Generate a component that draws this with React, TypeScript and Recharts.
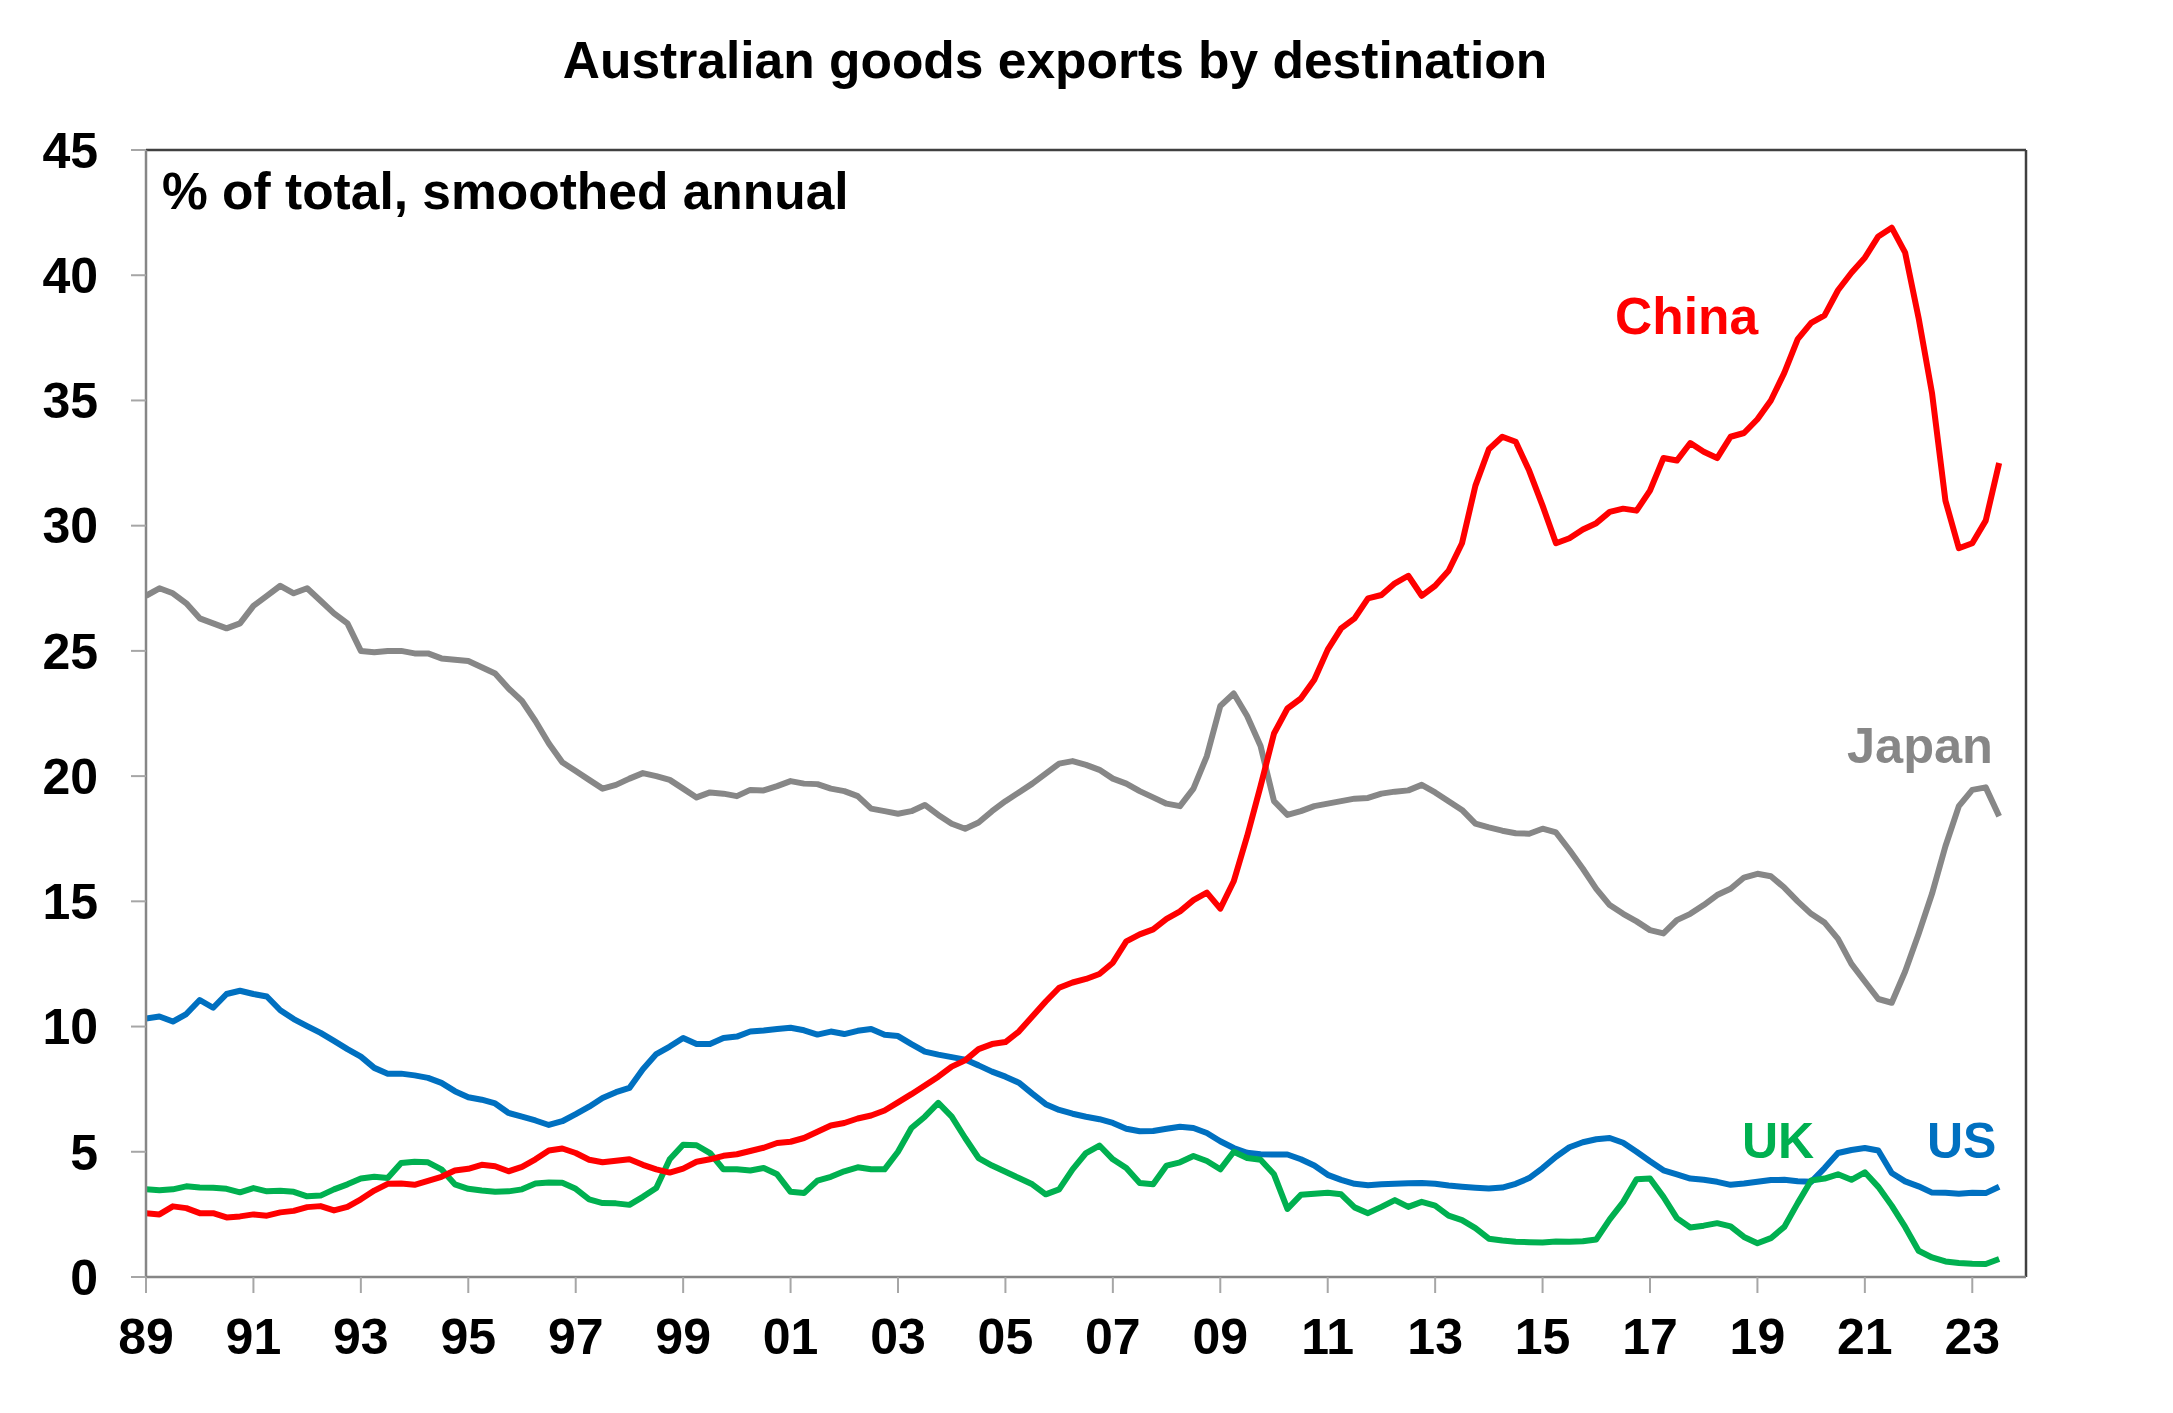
import React from 'react';
import { LineChart, Line, XAxis, YAxis, ReferenceLine } from 'recharts';

// quarterly observations, Mar-89 .. Jun-23 (decimal years)
const START_YEAR = 1989;
const STEP = 0.25;

// % of total goods exports, smoothed annual — one row per year
const china = [
  2.55, 2.5, 2.82, 2.75,
  2.55, 2.55, 2.38, 2.42,
  2.5, 2.45, 2.58, 2.64,
  2.79, 2.83, 2.66, 2.8,
  3.1, 3.45, 3.72, 3.73,
  3.68, 3.84, 4.0, 4.25,
  4.32, 4.48, 4.42, 4.22,
  4.4, 4.7, 5.05, 5.13,
  4.95, 4.68, 4.58, 4.64,
  4.7, 4.48, 4.3, 4.17,
  4.33, 4.6, 4.7, 4.84,
  4.9, 5.03, 5.16, 5.35,
  5.4, 5.55, 5.8, 6.05,
  6.15, 6.33, 6.45, 6.65,
  6.97, 7.3, 7.65, 8.0,
  8.4, 8.65, 9.1, 9.3,
  9.38, 9.8, 10.4, 11.0,
  11.55, 11.76, 11.9, 12.1,
  12.55, 13.4, 13.68, 13.88,
  14.3, 14.6, 15.05, 15.35,
  14.71, 15.8, 17.6, 19.6,
  21.7, 22.7, 23.1, 23.85,
  25.05, 25.9, 26.3, 27.1,
  27.23, 27.7, 28.0, 27.2,
  27.6, 28.2, 29.3, 31.6,
  33.05, 33.55, 33.35, 32.2,
  30.8, 29.3, 29.5, 29.85,
  30.1, 30.55, 30.68, 30.6,
  31.4, 32.7, 32.6, 33.3,
  32.95, 32.7, 33.55, 33.7,
  34.25, 35.0, 36.1, 37.45,
  38.1, 38.4, 39.4, 40.1,
  40.7, 41.55, 41.9, 40.9,
  38.3, 35.3, 31.0, 29.1,
  29.3, 30.2, 32.5,
];

const japan = [
  27.2, 27.5, 27.3, 26.9,
  26.3, 26.1, 25.9, 26.1,
  26.8, 27.2, 27.6, 27.3,
  27.5, 27.0, 26.5, 26.1,
  25.0, 24.95, 25.0, 25.0,
  24.9, 24.9, 24.7, 24.65,
  24.6, 24.35, 24.1, 23.5,
  23.0, 22.2, 21.3, 20.55,
  20.2, 19.85, 19.5, 19.65,
  19.9, 20.12, 20.0, 19.85,
  19.5, 19.15, 19.35, 19.3,
  19.2, 19.45, 19.43, 19.6,
  19.8, 19.7, 19.68, 19.5,
  19.4, 19.2, 18.7, 18.6,
  18.5, 18.6, 18.85, 18.45,
  18.1, 17.9, 18.15, 18.6,
  19.0, 19.35, 19.7, 20.1,
  20.5, 20.6, 20.45, 20.25,
  19.9, 19.7, 19.4, 19.15,
  18.9, 18.8, 19.5, 20.8,
  22.8, 23.3, 22.4, 21.2,
  19.0, 18.45, 18.6, 18.8,
  18.9, 19.0, 19.1, 19.13,
  19.3, 19.38, 19.43, 19.65,
  19.35, 19.0, 18.65, 18.1,
  17.95, 17.82, 17.72, 17.7,
  17.9, 17.75, 17.05, 16.3,
  15.5, 14.85, 14.5, 14.2,
  13.85, 13.72, 14.25, 14.5,
  14.85, 15.25, 15.5, 15.95,
  16.1, 16.0, 15.55, 15.0,
  14.5, 14.15, 13.5, 12.5,
  11.8, 11.1, 10.95, 12.2,
  13.7, 15.3, 17.2, 18.8,
  19.45, 19.55, 18.4,
];

const us = [
  10.32, 10.4, 10.2, 10.5,
  11.06, 10.75, 11.3, 11.43,
  11.3, 11.2, 10.65, 10.3,
  10.02, 9.75, 9.43, 9.1,
  8.8, 8.35, 8.12, 8.12,
  8.05, 7.95, 7.75, 7.42,
  7.18, 7.08, 6.93, 6.55,
  6.4, 6.25, 6.07, 6.22,
  6.5, 6.8, 7.15, 7.38,
  7.55, 8.3, 8.9, 9.2,
  9.54, 9.3, 9.3, 9.54,
  9.6, 9.8, 9.84, 9.9,
  9.95, 9.85, 9.68, 9.8,
  9.7, 9.83, 9.9, 9.67,
  9.62, 9.3, 9.0, 8.88,
  8.78, 8.68, 8.45, 8.2,
  8.0, 7.76, 7.32, 6.9,
  6.67, 6.52, 6.4, 6.3,
  6.15, 5.92, 5.82, 5.83,
  5.92, 6.0, 5.95, 5.75,
  5.42, 5.15, 4.96, 4.9,
  4.89, 4.89, 4.7, 4.45,
  4.08, 3.88, 3.72, 3.66,
  3.7, 3.72, 3.74, 3.75,
  3.72, 3.65, 3.6, 3.56,
  3.53, 3.57, 3.72, 3.95,
  4.35, 4.8, 5.18, 5.38,
  5.5, 5.55, 5.36, 5.0,
  4.62, 4.26, 4.1, 3.93,
  3.88, 3.8, 3.68, 3.73,
  3.8, 3.87, 3.88, 3.82,
  3.8, 4.35, 4.95, 5.07,
  5.15, 5.05, 4.15, 3.82,
  3.62, 3.37, 3.36, 3.32,
  3.36, 3.35, 3.6,
];

const uk = [
  3.5, 3.46, 3.5, 3.62,
  3.57, 3.56, 3.52, 3.38,
  3.55, 3.42, 3.44, 3.4,
  3.22, 3.25, 3.5, 3.7,
  3.93, 4.0, 3.95, 4.55,
  4.6, 4.58, 4.3, 3.7,
  3.52, 3.45, 3.4, 3.42,
  3.5, 3.73, 3.77, 3.76,
  3.52, 3.1, 2.95, 2.94,
  2.88, 3.2, 3.55, 4.7,
  5.28, 5.26, 4.95, 4.3,
  4.3, 4.25, 4.35, 4.1,
  3.4, 3.35, 3.85, 4.0,
  4.22, 4.38, 4.3, 4.3,
  5.0, 5.95, 6.4, 6.95,
  6.4, 5.55, 4.75, 4.45,
  4.2, 3.95, 3.7, 3.3,
  3.5, 4.3, 4.95, 5.25,
  4.7, 4.35, 3.75, 3.7,
  4.45, 4.58, 4.83, 4.63,
  4.3, 5.0, 4.75, 4.68,
  4.1, 2.72, 3.28, 3.32,
  3.36, 3.3, 2.78, 2.55,
  2.8, 3.07, 2.8, 3.0,
  2.85, 2.45, 2.27, 1.95,
  1.53, 1.46, 1.41, 1.39,
  1.38, 1.42, 1.41, 1.43,
  1.5, 2.3, 2.99, 3.9,
  3.93, 3.2, 2.35, 1.98,
  2.05, 2.15, 2.02, 1.6,
  1.35, 1.55, 2.0, 2.95,
  3.85, 3.93, 4.1, 3.88,
  4.18, 3.6, 2.85, 2.0,
  1.05, 0.78, 0.62, 0.56,
  0.53, 0.52, 0.72,
];

const xTicks = [1989, 1991, 1993, 1995, 1997, 1999, 2001, 2003, 2005, 2007, 2009, 2011, 2013, 2015, 2017, 2019, 2021, 2023];
const yTicks = [0, 5, 10, 15, 20, 25, 30, 35, 40, 45];

const data = china.map((v, i) => ({
  t: START_YEAR + i * STEP,
  china: v,
  japan: japan[i],
  us: us[i],
  uk: uk[i],
}));

const FONT = '"Liberation Sans", Arial, sans-serif';
const tickStyle = { fontSize: 50, fontWeight: 700, fill: '#000', fontFamily: FONT };

const App: React.FC = () => {
  return (
    <div style={{ position: 'absolute', left: 0, top: 0, width: 2173, height: 1413, background: '#fff' }}>
      <LineChart width={2173} height={1413} data={data} margin={{ top: 150, right: 147, bottom: 36, left: 46 }}>
        <XAxis
          dataKey="t"
          type="number"
          domain={[1989, 2024]}
          ticks={xTicks}
          allowDataOverflow
          tickFormatter={(v: number) => String(v % 100).padStart(2, '0')}
          tick={tickStyle}
          height={100}
          tickSize={16}
          tickMargin={25}
          axisLine={{ stroke: '#868686', strokeWidth: 2.5 }}
          tickLine={{ stroke: '#a6a6a6', strokeWidth: 2 }}
        />
        <YAxis
          type="number"
          domain={[0, 45]}
          ticks={yTicks}
          tick={tickStyle}
          width={100}
          tickSize={15}
          tickMargin={33}
          axisLine={{ stroke: '#868686', strokeWidth: 2.5 }}
          tickLine={{ stroke: '#a6a6a6', strokeWidth: 2 }}
        />
        <ReferenceLine y={45} stroke="#404040" strokeWidth={2.5} />
        <ReferenceLine x={2024} stroke="#404040" strokeWidth={2.5} />
        <Line dataKey="us" stroke="#0070c0" strokeWidth={6} dot={false} isAnimationActive={false} strokeLinejoin="round" />
        <Line dataKey="uk" stroke="#00b050" strokeWidth={6} dot={false} isAnimationActive={false} strokeLinejoin="round" />
        <Line dataKey="japan" stroke="#878787" strokeWidth={6} dot={false} isAnimationActive={false} strokeLinejoin="round" />
        <Line dataKey="china" stroke="#ff0000" strokeWidth={6} dot={false} isAnimationActive={false} strokeLinejoin="round" />
      </LineChart>
      <svg width={2173} height={1413} style={{ position: 'absolute', left: 0, top: 0, pointerEvents: 'none' }}>
        <g fontFamily={FONT} fontWeight={700}>
          <text x={1055} y={78} textAnchor="middle" fill="#000" fontSize={51.5}>Australian goods exports by destination</text>
          <text x={162} y={209} fill="#000" fontSize={51.5}>% of total, smoothed annual</text>
          <text x={1615} y={334} fill="#ff0000" fontSize={51.5}>China</text>
          <text x={1847} y={763} fill="#878787" fontSize={50.5}>Japan</text>
          <text x={1742} y={1158} fill="#00b050" fontSize={50}>UK</text>
          <text x={1927} y={1158} fill="#0070c0" fontSize={50}>US</text>
        </g>
      </svg>
    </div>
  );
};

export default App;
